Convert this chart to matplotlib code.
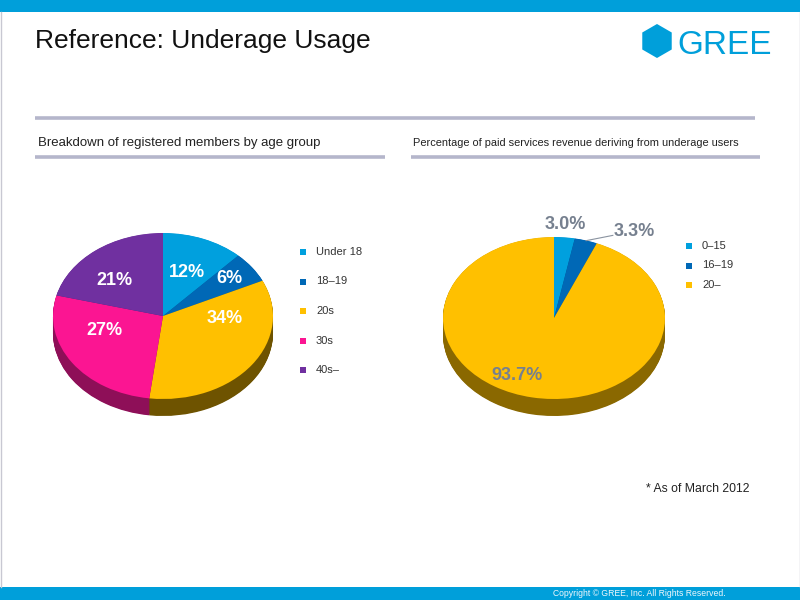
import matplotlib
matplotlib.use("Agg")
import matplotlib.pyplot as plt
from matplotlib.patches import Rectangle, RegularPolygon
import numpy as np

plt.rcParams['font.family'] = ['Liberation Sans', 'DejaVu Sans']

# ---------------- data ----------------
age_groups = ["Under 18", "18\u201319", "20s", "30s", "40s\u2013"]
age_shares = [12, 6, 34, 27, 21]
age_labels = ["12%", "6%", "34%", "27%", "21%"]

rev_groups = ["0\u201315", "16\u201319", "20\u2013"]
rev_shares = [3.0, 3.3, 93.7]
rev_labels = ["3.0%", "3.3%", "93.7%"]

# ---------------- styles ----------------
BLUE_BAR = '#009FDA'
age_colors = ['#00A0DE', '#0068B6', '#FFC000', '#FB1592', '#7030A0']
age_sides = ['#007BAA', '#004E88', '#6E5300', '#8E0F58', '#4E2075']
rev_colors = ['#00A0DE', '#0068B6', '#FFC000']
rev_sides = ['#007BAA', '#004E88', '#8A6800']
RULE = '#B5B6CB'

W, H = 800, 600
fig = plt.figure(figsize=(8, 6), dpi=100)
bg = fig.add_axes([0, 0, 1, 1])
bg.set_xlim(0, W)
bg.set_ylim(H, 0)
bg.axis('off')

# frame bars
bg.add_patch(Rectangle((0, 0), W, 12, color=BLUE_BAR, lw=0))
bg.add_patch(Rectangle((0, 587), W, 13, color=BLUE_BAR, lw=0))
bg.plot([0.5, 0.5], [12, 587], color='#C8C8D2', lw=1)
bg.plot([799.5, 799.5], [12, 587], color='#C8C8D2', lw=1)

# title and logo
bg.text(35, 48, "Reference: Underage Usage", fontsize=19, va='baseline',
        ha='left', color='#111111')
bg.add_patch(RegularPolygon((657, 41), numVertices=6, radius=17,
                            orientation=0, color=BLUE_BAR, lw=0))
bg.text(677, 54, "GREE", fontsize=24, va='baseline', ha='left',
        color=BLUE_BAR)

# rules and subtitles
bg.plot([35, 755], [118, 118], color=RULE, lw=2.6, solid_capstyle='butt')
bg.plot([35, 385], [157, 157], color=RULE, lw=2.6, solid_capstyle='butt')
bg.plot([411, 760], [157, 157], color=RULE, lw=2.6, solid_capstyle='butt')
bg.text(38, 146, "Breakdown of registered members by age group",
        fontsize=9.5, va='baseline', ha='left', color='#222222')
bg.text(413, 146, "Percentage of paid services revenue deriving from underage users",
        fontsize=7.95, va='baseline', ha='left', color='#222222')

bg.text(646, 492, "* As of March 2012", fontsize=8.8, va='baseline',
        ha='left', color='#222222')
bg.text(553, 596, "Copyright \u00a9 GREE, Inc. All Rights Reserved.",
        fontsize=6.2, va='baseline', ha='left', color='#F2F8FC')


def pie3d(cx, cy, rx, ry, depth, values, colors, sides):
    xl = (-1.25, 1.25)
    yl = (-1.45, 1.25)
    left = cx + xl[0] * rx
    right = cx + xl[1] * rx
    top = cy - yl[1] * ry
    bottom = cy - yl[0] * ry
    ax = fig.add_axes([left / W, 1 - bottom / H, (right - left) / W,
                       (bottom - top) / H])
    d = depth / ry
    for off in np.linspace(d, 0.004, 26):
        ax.pie(values, colors=sides, startangle=90, counterclock=False,
               center=(0, -off), radius=1,
               wedgeprops=dict(linewidth=0, antialiased=True))
    ax.pie(values, colors=colors, startangle=90, counterclock=False,
           center=(0, 0), radius=1, wedgeprops=dict(linewidth=0))
    ax.set_aspect('auto')
    ax.set_xlim(*xl)
    ax.set_ylim(*yl)
    ax.axis('off')
    return ax


# left pie
ax1 = pie3d(163, 316, 110, 83, 17, age_shares, age_colors, age_sides)
pos1 = [(0.22, 0.52), (0.60, 0.45), (0.56, -0.03), (-0.53, -0.18), (-0.44, 0.43)]
for lab, (x, y) in zip(age_labels, pos1):
    ax1.text(x, y, lab, ha='center', va='center', fontsize=13,
             fontweight='bold', color='white')

# right pie
ax2 = pie3d(554, 318, 111, 81, 17, rev_shares, rev_colors, rev_sides)
LABC = '#76808F'
ax2.text(0.10, 1.16, rev_labels[0], ha='center', va='center', fontsize=13,
         fontweight='bold', color=LABC)
ax2.plot([0.29, 0.53], [0.955, 1.02], color='#8A93A0', lw=0.8)
ax2.text(0.535, 1.07, rev_labels[1], ha='left', va='center', fontsize=13,
         fontweight='bold', color=LABC)
ax2.text(-0.33, -0.71, rev_labels[2], ha='center', va='center', fontsize=13,
         fontweight='bold', color=LABC)

# legends
for i, (name, c) in enumerate(zip(age_groups, age_colors)):
    y = 252 + i * 29.5
    bg.scatter([303], [y], marker='s', s=20, color=c, lw=0)
    bg.text(316, y, name, fontsize=8, va='center', ha='left', color='#333333')
for i, (name, c) in enumerate(zip(rev_groups, rev_colors)):
    y = 246 + i * 19.5
    bg.scatter([689], [y], marker='s', s=20, color=c, lw=0)
    bg.text(702, y, name, fontsize=8, va='center', ha='left', color='#333333')

fig.savefig("out.png", dpi=100)
